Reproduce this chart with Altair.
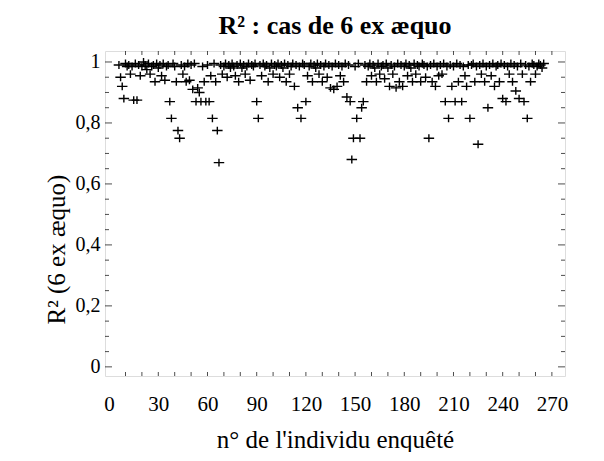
import altair as alt
import pandas as pd

# individual ids (sequential)
individu = list(range(6, 266))

r2 = [
    0.99, 0.95, 0.92, 0.88, 0.995, 0.985, 0.99, 0.96, 0.985, 0.875,
    0.995, 0.875, 0.99, 0.955, 0.985, 1.0, 0.99, 0.975, 0.995, 0.96,
    0.985, 0.99, 0.935, 0.995, 0.98, 0.99, 0.955, 0.995, 0.94, 0.985,
    0.99, 0.87, 0.815, 0.995, 0.985, 0.935, 0.775, 0.75, 0.99, 0.96,
    0.985, 0.935, 0.995, 0.94, 0.99, 0.91, 0.995, 0.87, 0.915, 0.90,
    0.87, 0.985, 0.935, 0.87, 0.99, 0.87, 0.955, 0.815, 0.995, 0.935,
    0.775, 0.67, 0.99, 0.96, 0.985, 0.995, 0.95, 0.99, 0.98, 0.995,
    0.985, 0.955, 0.99, 0.935, 0.995, 0.98, 0.99, 0.96, 0.985, 0.995,
    0.94, 0.99, 0.985, 0.995, 0.87, 0.815, 0.99, 0.955, 0.995, 0.985,
    0.99, 0.935, 0.98, 0.995, 0.96, 0.99, 0.985, 0.995, 0.95, 0.99,
    0.98, 0.995, 0.935, 0.99, 0.96, 0.985, 0.995, 0.92, 0.99, 0.85,
    0.985, 0.815, 0.995, 0.99, 0.87, 0.955, 0.985, 0.995, 0.935, 0.99,
    0.98, 0.995, 0.96, 0.99, 0.935, 0.985, 0.995, 0.95, 0.99, 0.915,
    0.985, 0.91, 0.995, 0.92, 0.99, 0.955, 0.985, 0.935, 0.995, 0.885,
    0.99, 0.87, 0.68, 0.75, 0.985, 0.815, 0.995, 0.75, 0.85, 0.87,
    0.99, 0.935, 0.985, 0.995, 0.955, 0.99, 0.98, 0.935, 0.995, 0.96,
    0.985, 0.99, 0.945, 0.995, 0.98, 0.92, 0.99, 0.96, 0.985, 0.915,
    0.995, 0.935, 0.99, 0.92, 0.985, 0.995, 0.955, 0.99, 0.98, 0.935,
    0.995, 0.96, 0.99, 0.985, 0.935, 0.995, 0.99, 0.95, 0.985, 0.75,
    0.99, 0.935, 0.995, 0.92, 0.985, 0.955, 0.99, 0.96, 0.995, 0.87,
    0.985, 0.815, 0.99, 0.92, 0.985, 0.87, 0.995, 0.935, 0.99, 0.87,
    0.985, 0.955, 0.92, 0.99, 0.815, 0.99, 0.995, 0.935, 0.985, 0.73,
    0.99, 0.96, 0.995, 0.935, 0.985, 0.85, 0.99, 0.955, 0.995, 0.92,
    0.985, 0.99, 0.935, 0.995, 0.88, 0.99, 0.87, 0.985, 0.96, 0.995,
    0.935, 0.99, 0.905, 0.985, 0.88, 0.995, 0.96, 0.87, 0.99, 0.815,
    0.985, 0.935, 0.995, 0.99, 0.96, 0.985, 0.995, 0.99, 0.98, 0.995,
]

x_labels = [0, 30, 60, 90, 120, 150, 180, 210, 240, 270]
x_minor = [10, 20, 30, 40, 50, 60, 70, 80, 90, 100, 110, 120, 130, 140, 150,
           160, 170, 180, 190, 200, 210, 220, 230, 240, 250, 260, 270]
y_labels = [0, 0.2, 0.4, 0.6, 0.8, 1.0]
y_minor = [0.05, 0.1, 0.15, 0.25, 0.3, 0.35, 0.45, 0.5, 0.55, 0.65, 0.7, 0.75,
           0.85, 0.9, 0.95]

W, H = 460, 325
FONT = "Liberation Serif"

xaxis = alt.Axis(values=x_labels, title="n° de l'individu enquêté",
                 ticks=False, tickSize=0, domain=False, grid=False,
                 labelPadding=17, titlePadding=13, labelFontSize=21,
                 titleFontSize=25, labelFont=FONT, titleFont=FONT,
                 titleFontWeight="normal", labelColor="black",
                 titleColor="black", labelFlush=False)
yaxis = alt.Axis(values=y_labels, title="R² (6 ex æquo)",
                 ticks=False, tickSize=0, domain=False, grid=False,
                 labelPadding=5, titlePadding=6, labelFontSize=20,
                 titleFontSize=25, labelFont=FONT, titleFont=FONT,
                 titleFontWeight="normal", labelColor="black",
                 titleColor="black", labelFlush=False, titleY=198,
                 labelExpr="datum.value == 0 ? '0' : datum.value == 1 ? '1' : replace(format(datum.value, '.1f'), '.', ',')")

xscale = alt.Scale(domain=[-2.5, 278], nice=False, zero=False)
yscale = alt.Scale(domain=[-0.03, 1.036], nice=False, zero=False)

df = pd.DataFrame({"x": individu, "y": r2})
dxm = pd.DataFrame({"x": x_minor})
dym = pd.DataFrame({"y": y_minor})
dyM = pd.DataFrame({"y": y_labels})

plus = "M-1,0H1M0,-0.75V0.75"

points = alt.Chart(df).mark_point(
    shape=plus, filled=False, color="black", strokeWidth=1.4, size=110, opacity=1
).encode(
    x=alt.X("x:Q", scale=xscale, axis=xaxis),
    y=alt.Y("y:Q", scale=yscale, axis=yaxis),
)

def xticks(ypos, size):
    return alt.Chart(dxm).mark_tick(orient="vertical", size=size, thickness=1, color="black").encode(
        x=alt.X("x:Q", scale=xscale, axis=xaxis), y=alt.value(ypos))

def yticks(data, xpos, size):
    return alt.Chart(data).mark_tick(orient="horizontal", size=size, thickness=1, color="black").encode(
        y=alt.Y("y:Q", scale=yscale, axis=yaxis), x=alt.value(xpos))

chart = alt.layer(
    points,
    xticks(H - 2, 4), xticks(2, 4),
    yticks(dym, 2, 4), yticks(dym, W - 2, 4),
    yticks(dyM, 3.5, 7), yticks(dyM, W - 3.5, 7),
).properties(
    width=W, height=H,
    padding={"left": 36, "top": 5, "right": 5, "bottom": 0},
    title=alt.TitleParams("R² : cas de 6 ex æquo", font=FONT, fontSize=26,
                          fontWeight="bold", color="black", offset=12, anchor="middle"),
).configure_view(stroke="black", strokeWidth=1.5).configure(background="white")

chart.save("out.html", embed_options={"renderer": "svg", "actions": False})
